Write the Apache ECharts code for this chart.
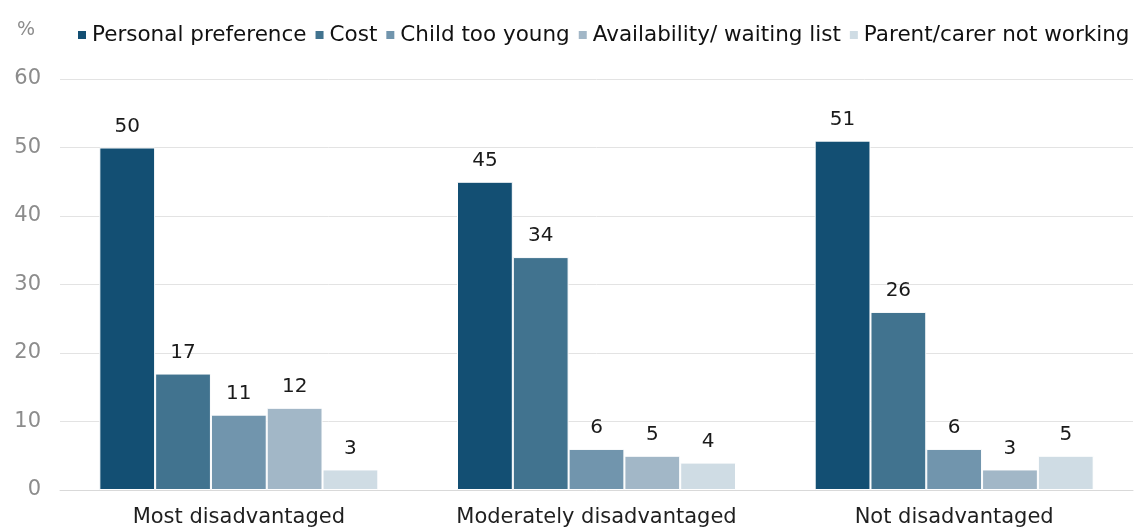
<!DOCTYPE html>
<html>
<head>
<meta charset="utf-8">
<script src="https://cdn.jsdelivr.net/npm/echarts@6/dist/echarts.min.js"></script>
<style>
  html, body { margin: 0; padding: 0; background: #fff; }
  #chart { width: 1139px; height: 529px; }
</style>
</head>
<body>
<div id="chart"></div>
<script>
// Reasons for not using childcare, by disadvantage group (%)
const categories = ['Most disadvantaged', 'Moderately disadvantaged', 'Not disadvantaged'];
const seriesNames = ['Personal preference', 'Cost', 'Child too young', 'Availability/ waiting list', 'Parent/carer not working'];
const personalPreference = [50, 45, 51];
const cost = [17, 34, 26];
const childTooYoung = [11, 6, 6];
const availability = [12, 5, 3];
const parentNotWorking = [3, 4, 5];
const yTicks = [0, 10, 20, 30, 40, 50, 60];

const seriesValues = [personalPreference, cost, childTooYoung, availability, parentNotWorking];
const colors = ['#134f73', '#41738f', '#7195ad', '#a2b7c7', '#cfdce4'];
const FONT = 'DejaVu Sans';

const chart = echarts.init(document.getElementById('chart'));
chart.setOption({
  animation: false,
  color: colors,
  title: {
    text: '%',
    left: 12,
    top: 16,
    textStyle: { fontFamily: FONT, fontSize: 19, fontWeight: 'normal', color: '#8c8c8c' }
  },
  legend: {
    data: seriesNames,
    left: 76,
    top: 24,
    width: 1063,
    padding: 0,
    icon: 'rect',
    itemWidth: 10,
    itemHeight: 10,
    itemGap: 7,
    textStyle: { fontFamily: FONT, fontSize: 21.5, color: '#111111' }
  },
  grid: { left: 60, right: 6, top: 79, bottom: 39 },
  xAxis: {
    type: 'category',
    data: categories,
    axisTick: { show: false },
    axisLine: { lineStyle: { color: '#d9d9d9' } },
    axisLabel: { interval: 0, fontFamily: FONT, fontSize: 21, color: '#1f1f1f', margin: 17 }
  },
  yAxis: {
    type: 'value',
    min: yTicks[0],
    max: yTicks[yTicks.length - 1],
    interval: yTicks[1] - yTicks[0],
    axisLine: { show: false },
    axisTick: { show: false },
    splitLine: { lineStyle: { color: '#e3e3e3', width: 1 } },
    axisLabel: { fontFamily: FONT, fontSize: 21, color: '#8c8c8c', margin: 19 }
  },
  series: seriesNames.map((name, i) => ({
    name: name,
    type: 'bar',
    data: seriesValues[i],
    barGap: '0%',
    barCategoryGap: '22%',
    itemStyle: { color: colors[i], borderColor: '#ffffff', borderWidth: 1 },
    label: {
      show: true,
      position: 'top',
      distance: 11,
      fontFamily: FONT,
      fontSize: 20,
      color: '#1a1a1a'
    }
  }))
});
</script>
</body>
</html>
